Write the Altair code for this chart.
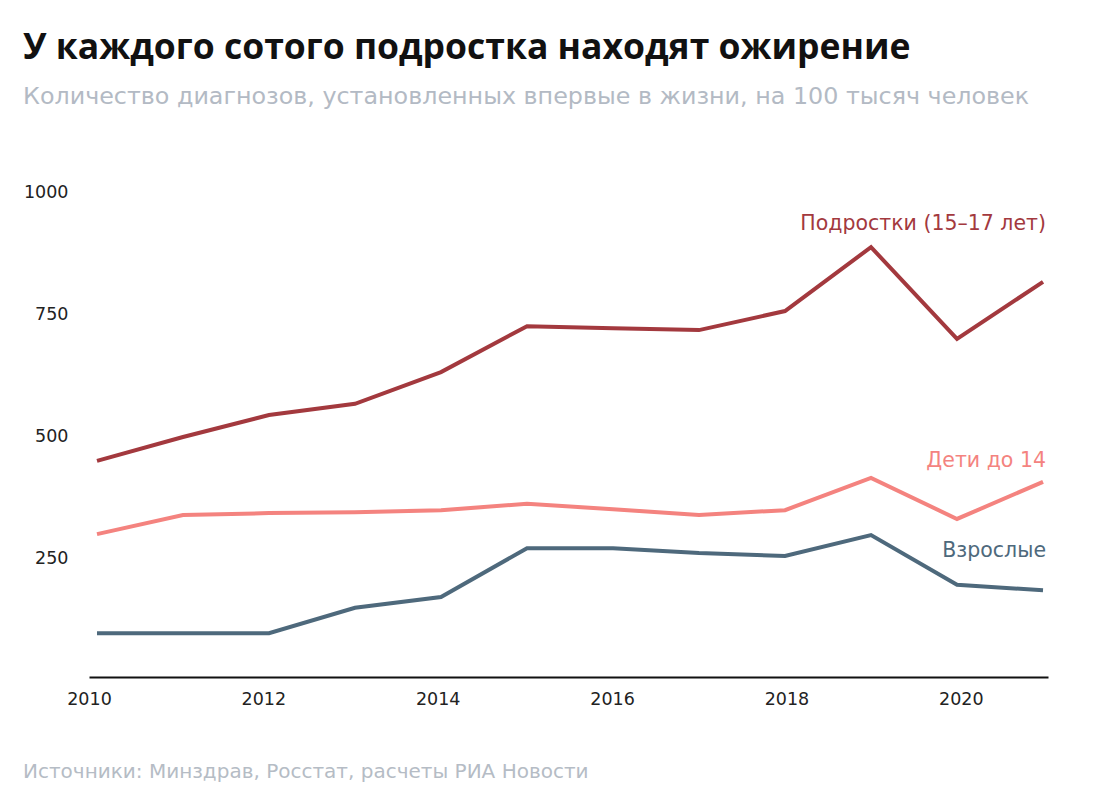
import altair as alt
import pandas as pd

years = list(range(2010, 2022))
teens = [449, 498, 543, 566, 631, 725, 721, 717, 756, 887, 699, 816]
children = [299, 338, 342, 344, 348, 361, 350, 338, 348, 414, 330, 406]
adults = [96, 96, 96, 148, 170, 270, 270, 260, 254, 297, 195, 184]

series_names = ["Подростки (15–17 лет)", "Дети до 14", "Взрослые"]
series_colors = ["#a3393e", "#f4837f", "#4e697c"]
label_dy = [-58, -21, -39]
x_tick_years = [2010, 2012, 2014, 2016, 2018, 2020]
y_ticks = [250, 500, 750, 1000]

title_text = "У каждого сотого подростка находят ожирение"
subtitle_text = "Количество диагнозов, установленных впервые в жизни, на 100 тысяч человек"
source_text = "Источники: Минздрав, Росстат, расчеты РИА Новости"

FONT = "DejaVu Sans"
TFONT = "Open Sans"

rows = []
for name, vals in zip(series_names, [teens, children, adults]):
    for y, v in zip(years, vals):
        rows.append({"year": y, "value": v, "series": name})
df = pd.DataFrame(rows)

line_x = alt.X("year:Q", scale=alt.Scale(domain=[2009.907, 2021.058], nice=False, zero=False),
               axis=None)
y = alt.Y("value:Q", scale=alt.Scale(domain=[0, 1000], nice=False),
          axis=alt.Axis(values=y_ticks, format="d", ticks=False, grid=False, domain=False,
                        labelFont=FONT, labelFontSize=17.5, labelColor="#222222",
                        labelPadding=21, title=None))
color = alt.Color("series:N", scale=alt.Scale(domain=series_names, range=series_colors), legend=None)

lines = alt.Chart(df).mark_line(strokeWidth=4, strokeJoin="miter").encode(x=line_x, y=y, color=color)

data_layers = [lines]
for name, col, dy, vals in zip(series_names, series_colors, label_dy, [teens, children, adults]):
    ldf = pd.DataFrame({"year": [years[-1]], "value": [vals[-1]], "label": [name]})
    data_layers.append(
        alt.Chart(ldf).mark_text(align="right", baseline="middle", dy=dy, dx=3,
                                 font=FONT, fontSize=20.5, color=col)
        .encode(x=line_x, y=alt.Y("value:Q"), text="label:N")
    )
data_layer = alt.layer(*data_layers)

axis_df = pd.DataFrame({"year": x_tick_years})
axis_layer = alt.Chart(axis_df).mark_tick(opacity=0).encode(
    x=alt.X("year:Q", scale=alt.Scale(domain=[2010, 2021], nice=False, zero=False),
            axis=alt.Axis(values=x_tick_years, format="d", ticks=False, grid=False, domain=True,
                          domainColor="#111111", domainWidth=2, offset=-3,
                          labelFlush=False, labelBound=False, labelOverlap=False,
                          labelFont=FONT, labelFontSize=17.5, labelColor="#222222",
                          labelPadding=13, title=None))
)

def text_layer(txt, xpos, ypos, size, colr, font, weight="normal"):
    return alt.Chart(pd.DataFrame({"t": [txt]})).mark_text(
        align="left", baseline="alphabetic", font=font, fontSize=size, color=colr, fontWeight=weight
    ).encode(x=alt.value(xpos), y=alt.value(ypos), text="t:N")

chart = alt.layer(
    data_layer,
    axis_layer,
    text_layer(title_text, -66, -133, 35.5, "#111111", TFONT, "bold"),
    text_layer(subtitle_text, -66, -88, 23.8, "#b3bac4", FONT),
    text_layer(source_text, -66, 586, 20, "#b5bcc5", FONT),
).resolve_scale(x="independent").properties(
    width=959, height=488,
    autosize=alt.AutoSizeParams(type="none"),
    padding={"left": 81, "top": 184, "right": 44, "bottom": 110},
    background="white",
).configure_view(strokeWidth=0, stroke=None)

chart.save("out.html", embed_options={"renderer": "svg", "actions": False})
